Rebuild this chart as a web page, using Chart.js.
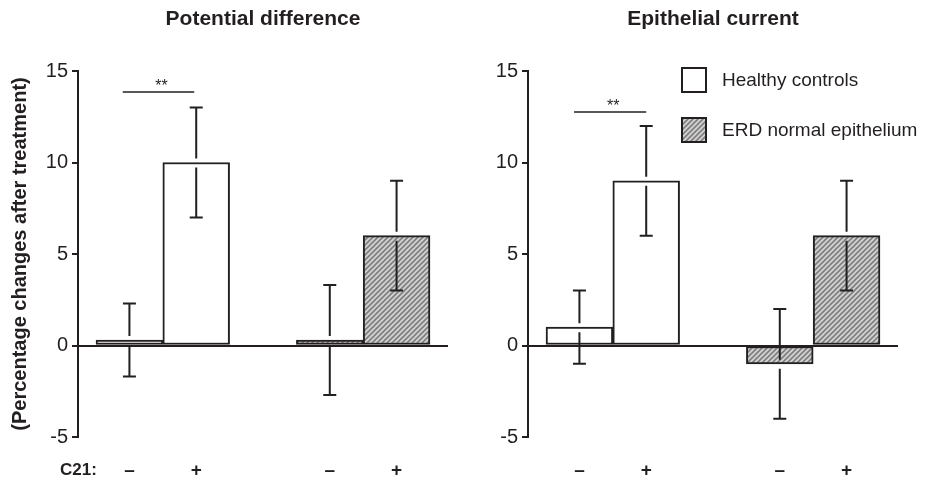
<!DOCTYPE html>
<html>
<head>
<meta charset="utf-8">
<script src="https://cdn.jsdelivr.net/npm/chart.js@4.4.1/dist/chart.umd.min.js"></script>
<style>
  body { margin: 0; background: #fff; }
  #wrap { position: relative; width: 942px; height: 484px; font-family: "Liberation Sans", Arial, sans-serif; color: #231f20; }
  canvas { position: absolute; top: 0; }
  .leg { position: absolute; left: 681px; display: flex; align-items: center; font-size: 19px; }
  .sw { width: 22px; height: 22px; border: 2px solid #231f20; margin-right: 15px; }
  .c21 { position: absolute; left: 60px; top: 460px; font-size: 17px; font-weight: bold; }
</style>
</head>
<body>
<div id="wrap">
  <canvas id="pdChart" width="470" height="484" style="left:0"></canvas>
  <canvas id="ecChart" width="472" height="484" style="left:470px"></canvas>
  <div class="leg" style="top:67px"><div class="sw" style="background:#fff"></div>Healthy controls</div>
  <div class="leg" style="top:117px"><div class="sw" id="hatchSw"></div>ERD normal epithelium</div>
  <div class="c21">C21:</div>
</div>
<script>
// C21 treatment: without / with, for each group
const c21Labels = ["–", "+"];
const healthySlots = [0, 1];
const erdSlots = [3, 4];
const xTicks = [0, 1, 3, 4];
const yTicks = [-5, 0, 5, 10, 15];

// Potential difference (% change)
const pdHealthy = [0.3, 10];
const pdHealthyErr = [2, 3];
const pdErd = [0.3, 6];
const pdErdErr = [3, 3];

// Epithelial current (% change)
const ecHealthy = [1, 9];
const ecHealthyErr = [2, 3];
const ecErd = [-1, 6];
const ecErdErr = [3, 3];

const ink = "#231f20";

// grey hatch used for the ERD bars
function makeHatch() {
  const c = document.createElement("canvas");
  c.width = 5; c.height = 5;
  const g = c.getContext("2d");
  g.fillStyle = "#d2d2d2";
  g.fillRect(0, 0, 5, 5);
  g.strokeStyle = "#7e7e7e";
  g.lineWidth = 1.6;
  g.beginPath();
  g.moveTo(-1, 6); g.lineTo(6, -1);
  g.moveTo(-1, 1); g.lineTo(1, -1);
  g.moveTo(4, 6); g.lineTo(6, 4);
  g.stroke();
  return c;
}
const hatchCanvas = makeHatch();
const hatch = hatchCanvas.getContext("2d").createPattern(hatchCanvas, "repeat");
document.getElementById("hatchSw").style.background = "url(" + hatchCanvas.toDataURL() + ")";

// error bars with a small break where they cross the bar end
const errorBars = {
  id: "errorBars",
  afterDatasetsDraw(chart) {
    const ctx = chart.ctx;
    const y = chart.scales.y;
    ctx.save();
    ctx.strokeStyle = ink;
    ctx.lineWidth = 2;
    chart.data.datasets.forEach((ds, i) => {
      chart.getDatasetMeta(i).data.forEach((bar, j) => {
        const v = ds.data[j].y, e = ds.errors[j];
        const hi = y.getPixelForValue(v + e), lo = y.getPixelForValue(v - e);
        const x = bar.x, end = bar.y;
        ctx.beginPath();
        ctx.moveTo(x, hi); ctx.lineTo(x, end - 4);
        ctx.moveTo(x, end + 5); ctx.lineTo(x, lo);
        ctx.moveTo(x - 6.5, hi); ctx.lineTo(x + 6.5, hi);
        ctx.moveTo(x - 6.5, lo); ctx.lineTo(x + 6.5, lo);
        ctx.stroke();
      });
    });
    ctx.restore();
  }
};

// significance line with stars
const sigBar = {
  id: "sigBar",
  afterDatasetsDraw(chart, args, opts) {
    const ctx = chart.ctx;
    const xs = chart.scales.x, ys = chart.scales.y;
    const x1 = xs.getPixelForValue(opts.from), x2 = xs.getPixelForValue(opts.to);
    const yy = ys.getPixelForValue(opts.y);
    ctx.save();
    ctx.strokeStyle = ink;
    ctx.lineWidth = 1.5;
    ctx.beginPath();
    ctx.moveTo(x1, yy); ctx.lineTo(x2, yy);
    ctx.stroke();
    ctx.fillStyle = ink;
    ctx.font = "16px 'Liberation Sans'";
    ctx.textAlign = "center";
    ctx.textBaseline = "alphabetic";
    ctx.fillText(opts.text, (x1 + x2) / 2 + 3, yy - 1);
    ctx.restore();
  }
};

function points(slots, vals) {
  return slots.map((s, i) => ({ x: s, y: vals[i] }));
}

function makeChart(id, title, healthy, healthyErr, erd, erdErr, axisW, padRight, sig, yTitle) {
  return new Chart(document.getElementById(id), {
    type: "bar",
    data: {
      datasets: [
        {
          label: "Healthy controls",
          data: points(healthySlots, healthy),
          errors: healthyErr,
          backgroundColor: "#ffffff"
        },
        {
          label: "ERD normal epithelium",
          data: points(erdSlots, erd),
          errors: erdErr,
          backgroundColor: hatch
        }
      ]
    },
    plugins: [errorBars, sigBar],
    options: {
      responsive: false,
      animation: false,
      layout: { padding: { left: 0, right: padRight, top: 0, bottom: 0 } },
      datasets: {
        bar: {
          grouped: false,
          barPercentage: 1,
          categoryPercentage: 1,
          borderColor: ink,
          borderWidth: 2,
          borderSkipped: false
        }
      },
      plugins: {
        legend: { display: false },
        tooltip: { enabled: false },
        title: {
          display: true,
          text: title,
          fullSize: false,
          color: ink,
          font: { family: "Liberation Sans", size: 21, weight: "bold" },
          padding: { top: 7, bottom: 38.8 }
        },
        sigBar: sig
      },
      scales: {
        x: {
          type: "linear",
          offset: false,
          min: -0.77,
          max: 4.77,
          afterBuildTicks: (s) => { s.ticks = xTicks.map(v => ({ value: v })); },
          afterFit: (s) => { s.height = 47; },
          grid: { display: false, drawTicks: false, offset: false },
          border: { display: false },
          ticks: {
            padding: 22,
            color: ink,
            font: { family: "Liberation Sans", size: 19, weight: "bold" },
            callback: (v) => c21Labels[v % 3 === 0 ? 0 : 1]
          }
        },
        y: {
          min: -5,
          max: 15,
          afterBuildTicks: (s) => { s.ticks = yTicks.map(v => ({ value: v })); },
          afterFit: (s) => { s.width = axisW; },
          border: { display: true, color: ink, width: 2 },
          grid: {
            color: (c) => (c.tick && c.tick.value === 0 ? ink : "rgba(0,0,0,0)"),
            tickColor: ink,
            lineWidth: 2,
            tickLength: 6
          },
          ticks: {
            padding: 4,
            color: ink,
            font: { family: "Liberation Sans", size: 20 }
          },
          title: {
            display: !!yTitle,
            text: yTitle || "",
            color: ink,
            font: { family: "Liberation Sans", size: 20, weight: "bold" },
            padding: { top: 8, bottom: 0 }
          }
        }
      }
    }
  });
}

makeChart("pdChart", "Potential difference", pdHealthy, pdHealthyErr, pdErd, pdErdErr,
  78, 22, { from: -0.1, to: 0.97, y: 13.85, text: "**" }, "(Percentage changes after treatment)");
makeChart("ecChart", "Epithelial current", ecHealthy, ecHealthyErr, ecErd, ecErdErr,
  58, 44, { from: -0.08, to: 1.0, y: 12.76, text: "**" }, null);
</script>
</body>
</html>
